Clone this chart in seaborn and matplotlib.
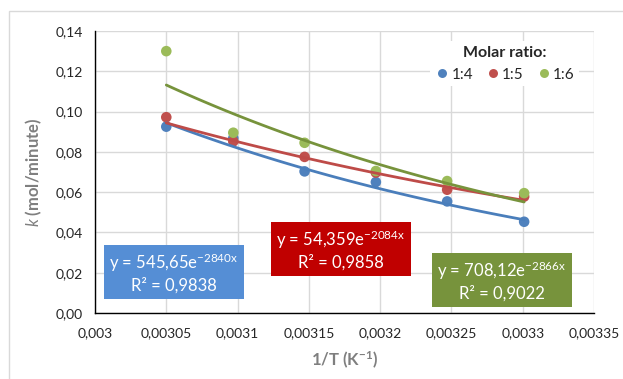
import numpy as np
import pandas as pd
import matplotlib
matplotlib.use("Agg")
import matplotlib.pyplot as plt
import seaborn as sns
from matplotlib.patches import Rectangle
from matplotlib.ticker import FuncFormatter, MultipleLocator

# ---- data ----
inv_T = [0.003050, 0.003097, 0.003147, 0.003197, 0.003247, 0.003301]
series_names = ["1:4", "1:5", "1:6"]
k_14 = [0.0925, 0.0868, 0.0703, 0.0650, 0.0554, 0.0453]
k_15 = [0.0972, 0.0852, 0.0775, 0.0697, 0.0612, 0.0578]
k_16 = [0.1300, 0.0895, 0.0845, 0.0705, 0.0655, 0.0595]
fit_a = [545.65, 54.359, 708.12]
fit_b = [-2840, -2084, -2866]
fit_r2 = ["0,9838", "0,9858", "0,9022"]
fit_a_txt = ["545,65", "54,359", "708,12"]

point_colors = ["#4F81BD", "#C0504D", "#9BBB59"]
line_colors = ["#4A7EBB", "#BE4B48", "#77933C"]
box_colors = ["#558ED5", "#C00000", "#77933C"]

sns.set_theme(style="white")
plt.rcParams["font.family"] = ["Lato", "DejaVu Sans"]
plt.rcParams["mathtext.fontset"] = "custom"
plt.rcParams["mathtext.rm"] = "Lato"
plt.rcParams["mathtext.it"] = "Lato:italic"
plt.rcParams["mathtext.bf"] = "Lato:bold"

df = pd.DataFrame({
    "x": inv_T * 3,
    "k": k_14 + k_15 + k_16,
    "ratio": [n for n in series_names for _ in inv_T],
})

fig = plt.figure(figsize=(6.23, 3.79), dpi=100)
fig.patches.append(Rectangle((9 / 623, -0.05), 1.2, 1 - 11 / 379 + 0.05,
                             transform=fig.transFigure, fill=False,
                             edgecolor="#D9D9D9", lw=1.0, zorder=0))
ax = fig.add_axes([95 / 623, (379 - 313) / 379, 499 / 623, 282 / 379])

sns.scatterplot(data=df, x="x", y="k", hue="ratio", palette=point_colors,
                s=58, edgecolor="none", ax=ax, zorder=3, legend=True)

# trend lines
for i, name in enumerate(series_names):
    xs = np.linspace(inv_T[0], inv_T[-1], 60)
    tdf = pd.DataFrame({"x": xs, "k": fit_a[i] * np.exp(fit_b[i] * xs)})
    sns.lineplot(data=tdf, x="x", y="k", color=line_colors[i], lw=2.0,
                 ax=ax, zorder=4, legend=False)

ax.set_xlim(0.003, 0.00335)
ax.set_ylim(0, 0.14)
ax.xaxis.set_major_locator(MultipleLocator(0.00005))
ax.yaxis.set_major_locator(MultipleLocator(0.02))


def xfmt(v, pos):
    s = ("%.5f" % v).rstrip("0")
    return s.replace(".", ",")


ax.xaxis.set_major_formatter(FuncFormatter(xfmt))
ax.yaxis.set_major_formatter(FuncFormatter(lambda v, p: ("%.2f" % v).replace(".", ",")))
ax.grid(True, color="#D9D9D9", lw=1.0)
ax.set_axisbelow(True)
for s in ["top", "right"]:
    ax.spines[s].set_visible(False)
for s in ["left", "bottom"]:
    ax.spines[s].set_color("black")
    ax.spines[s].set_linewidth(1.0)
ax.tick_params(axis="both", which="major", direction="out", length=4,
               width=1, color="black", labelsize=10, labelcolor="#262626", pad=5)
ax.tick_params(axis="x", pad=6)

ax.set_xlabel(r"1/T (K$^{\mathbf{-1}}$)", fontsize=12, fontweight="bold",
              color="#7F7F7F", labelpad=8)
ax.set_ylabel(r"$\mathit{k}$ (mol/minute)", fontsize=12, fontweight="bold",
              color="#7F7F7F", labelpad=8)

handles, labels = ax.get_legend_handles_labels()
leg = ax.legend(handles, labels, title="Molar ratio:", ncol=3, loc="upper right",
                bbox_to_anchor=(0.985, 0.99), frameon=True, facecolor="white",
                edgecolor="none", framealpha=1, fontsize=11,
                title_fontproperties={"weight": "bold", "size": 11.5},
                handletextpad=0.1, columnspacing=0.8, handlelength=1.0,
                borderpad=0.3, markerscale=0.85)
leg.set_zorder(6)

# equation boxes (pixel centers converted to axes fraction)
box_centers = [(174, 273), (341, 250), (502, 281)]
for i in range(3):
    cx = (box_centers[i][0] - 95) / 499
    cy = (313 - box_centers[i][1]) / 282
    txt = ("y = %se$^{\\mathregular{%dx}}$\nR² = %s"
           % (fit_a_txt[i], fit_b[i], fit_r2[i]))
    ax.text(cx, cy, txt, transform=ax.transAxes, ha="center", va="center",
            color="white", fontsize=12, linespacing=1.25, zorder=7,
            bbox=dict(boxstyle="square,pad=0.3", facecolor=box_colors[i],
                      edgecolor="none"))

fig.savefig("out.png", dpi=100)
